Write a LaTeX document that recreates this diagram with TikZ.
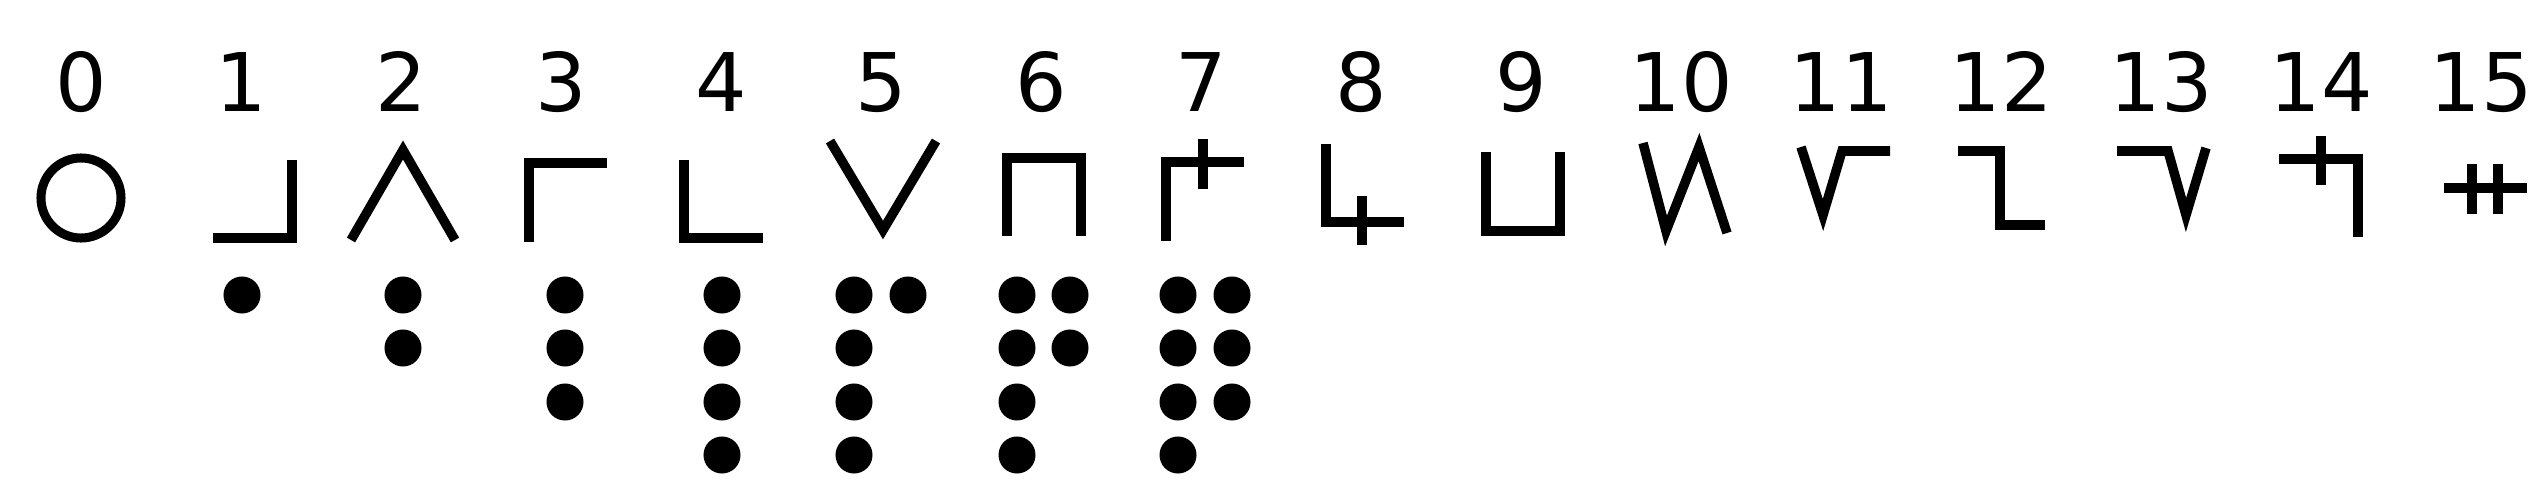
\documentclass[tikz,border=0pt]{standalone}
\usepackage{fontspec}
\setmainfont{DejaVu Sans}
\begin{document}
\begin{tikzpicture}[x=0.01cm,y=-0.01cm,
    glyph/.style={line width=0.095cm,miter limit=25},
    pip/.style={circle,fill,inner sep=0pt,minimum size=0.37cm}]
    \useasboundingbox (0,0) rectangle (2545,482);
    \foreach \i in {0,...,15}
        \node (num\i) [anchor=base,font=\fontsize{23}{23}\selectfont] at ({81+160*\i},112) {\i};
    \draw[glyph,line width=0.09cm] (81,198) circle (0.40cm);
    \draw[glyph] (213,238) -- (292,238) -- (292,160);
    \draw[glyph] (351,240) -- (403,150) -- (455,240);
    \draw[glyph] (529,242) -- (529,163) -- (607,163);
    \draw[glyph] (684,160) -- (684,238) -- (763,238);
    \draw[glyph] (830,141) -- (883,230) -- (936,141);
    \draw[glyph] (1007,236) -- (1007,158) -- (1081,158) -- (1081,236);
    \draw[glyph] (1166,241) -- (1166,162) -- (1244,162);
    \draw[glyph] (1203,139) -- (1203,189);
    \draw[glyph] (1326,144) -- (1326,222) -- (1404,222);
    \draw[glyph] (1362,196) -- (1362,245);
    \draw[glyph] (1486,152) -- (1486,231) -- (1560,231) -- (1560,152);
    \draw[glyph] (1643,143) -- (1666,231) -- (1699,147) -- (1727,233);
    \draw[glyph] (1801,147) -- (1823,215) -- (1842,151) -- (1890,151);
    \draw[glyph] (1958,151) -- (2000,151) -- (2000,225) -- (2045,225);
    \draw[glyph] (2117,151) -- (2168,151) -- (2186,215) -- (2206,148);
    \draw[glyph] (2279,159) -- (2358,159) -- (2358,237);
    \draw[glyph] (2321,136) -- (2321,185);
    \draw[glyph] (2444,188) -- (2527,188);
    \draw[glyph] (2472,164) -- (2472,214);
    \draw[glyph] (2498,164) -- (2498,214);
    \foreach \x/\y in {242/295,
            403/295, 403/348,
            565/295, 565/348, 565/402,
            722/295, 722/348, 722/402, 722/455,
            854/295, 854/348, 854/402, 854/455, 908/295,
            1017/295, 1017/348, 1017/402, 1017/455, 1070/295, 1070/348,
            1178/295, 1178/348, 1178/402, 1178/455, 1232/295, 1232/348, 1232/402}
        \node (pip\x-\y) [pip] at (\x,\y) {};
\end{tikzpicture}
\end{document}
